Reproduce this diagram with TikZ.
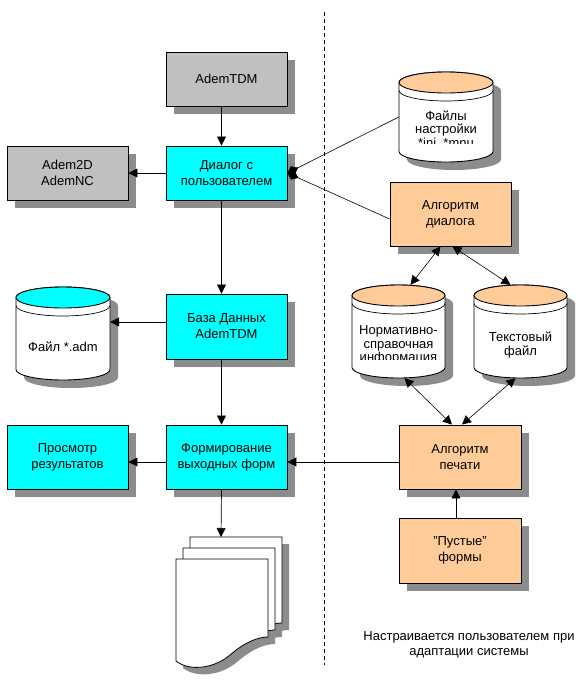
\documentclass[tikz,border=0pt]{standalone}
\usepackage{fontspec}
\setmainfont{Liberation Sans}
\usetikzlibrary{arrows.meta,calc,shadows}
\definecolor{shgray}{RGB}{140,140,140}
\definecolor{boxgray}{RGB}{192,192,192}
\definecolor{boxcyan}{RGB}{0,255,255}
\definecolor{peach}{RGB}{255,204,153}
\tikzset{
  box/.style={draw,line width=0.9pt,inner sep=0pt,minimum width=121pt,minimum height=54pt,
    align=center,font=\fontsize{13}{16}\selectfont,
    general shadow={fill=shgray,shadow xshift=8pt,shadow yshift=-8pt}},
  arr/.style={line width=0.7pt,-{Triangle[length=9pt,width=9pt]}},
  darr/.style={line width=0.6pt,{Triangle[length=9pt,width=9pt]}-{Triangle[length=9pt,width=9pt]}},
  dia/.style={line width=0.6pt,-{Diamond[length=12pt,width=9pt]}},
  ctext/.style={align=center,inner sep=0pt,font=\fontsize{13}{13.5}\selectfont},
}
% name, xl, xr, ytop, ybot, topcolor, text, text centre y, clip y
\newcommand\mkcyl[9]{%
  \pgfmathsetmacro\cx{(#2+#3)/2}%
  \pgfmathsetmacro\rx{(#3-#2)/2}%
  \def\ry{10.5}%
  \fill[shgray,shift={(8,8)}] (#2,#4+\ry) -- (#2,#5-\ry)
     arc[start angle=180,end angle=0,x radius=\rx,y radius=\ry] -- (#3,#4+\ry)
     arc[start angle=0,end angle=-180,x radius=\rx,y radius=\ry] -- cycle;
  \filldraw[fill=white,line width=0.9pt] (#2,#4+\ry) -- (#2,#5-\ry)
     arc[start angle=180,end angle=0,x radius=\rx,y radius=\ry] -- (#3,#4+\ry)
     arc[start angle=0,end angle=-180,x radius=\rx,y radius=\ry] -- cycle;
  \filldraw[fill=#6,line width=0.9pt] (\cx,#4+\ry) ellipse[x radius=\rx,y radius=\ry];
  \draw[line width=0.7pt] (#2,#4+\ry+8) arc[start angle=180,end angle=0,x radius=\rx,y radius=\ry];
  \node[inner sep=0pt,minimum width={2*\rx},minimum height={#5-#4}] (#1) at (\cx,{(#4+#5)/2}) {};
  \begin{scope}
    \clip (#2,#4) rectangle (#3,#9);
    \node[ctext] (#1t) at (\cx,#8) {#7};
  \end{scope}
}
\newcommand\docpage[3]{%
  (#1,#2) -- (#1+92,#2) -- (#1+92,#3) .. controls (#1+82,#3) and (#1+69,#3+5) .. (#1+54,#3+18)
  .. controls (#1+39,#3+31) and (#1+14,#3+35) .. (#1,#3+24) -- cycle}
\begin{document}
\begin{tikzpicture}[x=1pt,y=-1pt]
\useasboundingbox (0,0) rectangle (581,691);

% dashed separator
\coordinate (d1) at (324,12);
\coordinate (d2) at (324,665);
\draw[line width=0.7pt,dash pattern=on 4pt off 3pt] (d1) -- (d2);

% boxes
\node[box,fill=boxgray] (tdm) at (226.5,79) {AdemTDM};
\node[box,fill=boxcyan] (dlg) at (226.5,173) {Диалог с\\пользователем};
\node[box,fill=boxgray] (a2d) at (67.5,173) {Adem2D\\AdemNC};
\node[box,fill=boxcyan,minimum height=65pt] (bd) at (226.5,326.5) {База Данных\\AdemTDM};
\node[box,fill=boxcyan,minimum height=64pt] (fv) at (226.5,457) {Формирование\\выходных форм};
\node[box,fill=boxcyan,minimum height=64pt] (pr) at (67.5,457) {Просмотр\\результатов};
\node[box,fill=peach,minimum height=64pt] (ad) at (450.5,214) {Алгоритм\\диалога};
\node[box,fill=peach,minimum width=122pt,minimum height=64pt] (ap) at (460,457) {Алгоритм\\печати};
\node[box,fill=peach,minimum width=122pt,minimum height=65pt] (pf) at (460,550.5) {"Пустые"\\формы};

% cylinders
\mkcyl{fn}{399}{493}{72}{162}{peach}{Файлы\\настройки\\*ini, *mnu}{130}{143}
\mkcyl{fadm}{16}{110}{287}{380}{boxcyan}{Файл *.adm}{347}{380}
\mkcyl{nsi}{352}{445}{285}{378}{peach}{Нормативно-\\справочная\\информация}{345}{359}
\mkcyl{tf}{474}{567}{285}{378}{peach}{Текстовый\\файл}{345}{378}

% documents stack
\fill[shgray,shift={(7,7)}] \docpage{190}{537}{623};
\fill[shgray,shift={(7,7)}] \docpage{183}{548}{630};
\fill[shgray,shift={(7,7)}] \docpage{176}{559}{637};
\filldraw[fill=white,line width=0.8pt] \docpage{190}{537}{623};
\filldraw[fill=white,line width=0.8pt] \docpage{183}{548}{630};
\filldraw[fill=white,line width=0.8pt] \docpage{176}{559}{637};
\coordinate (docs) at (221,537);

% connectors
\draw[arr] ($(tdm.south)+(-5,0)$) -- ($(dlg.north)+(-5,0)$);
\draw[arr] (dlg.west) -- (a2d.east);
\draw[arr] ($(dlg.south)+(-5,0)$) -- ($(bd.north)+(-5,0)$);
\coordinate (p1) at ($(bd.west)+(0,-4.5)$);
\draw[arr] (p1) -- (p1 -| fadm.east);
\draw[arr] ($(bd.south)+(-5,0)$) -- ($(fv.north)+(-5,0)$);
\coordinate (p2) at ($(fv.west)+(0,5)$);
\draw[arr] (p2) -- (p2 -| pr.east);
\coordinate (p3) at ($(ap.west)+(0,5)$);
\draw[arr] (p3) -- (p3 -| fv.east);
\draw[arr] ($(fv.south)+(-5,0)$) -- (docs);
\draw[arr] ($(pf.north)+(-4,0)$) -- ($(ap.south)+(-4,0)$);
\draw[dia] (fn.west) -- (dlg.east);
\draw[dia] ($(ad.west)+(0,5)$) -- (dlg.east);
\draw[darr] ($(ad.south)+(-10,0)$) -- ($(nsi.north)+(12,0)$);
\draw[darr] ($(ad.south)+(2,0)$) -- ($(tf.north)+(-10,0)$);
\draw[darr] ($(nsi.south)+(6,0)$) -- ($(ap.north)+(-8,0)$);
\draw[darr] ($(tf.south)+(-5,0)$) -- ($(ap.north)+(2,0)$);

% caption
\node[align=center,inner sep=0pt,font=\fontsize{13}{15}\selectfont] (cap) at (469,644.5)
  {Настраивается пользователем при\\адаптации системы};
\end{tikzpicture}
\end{document}
